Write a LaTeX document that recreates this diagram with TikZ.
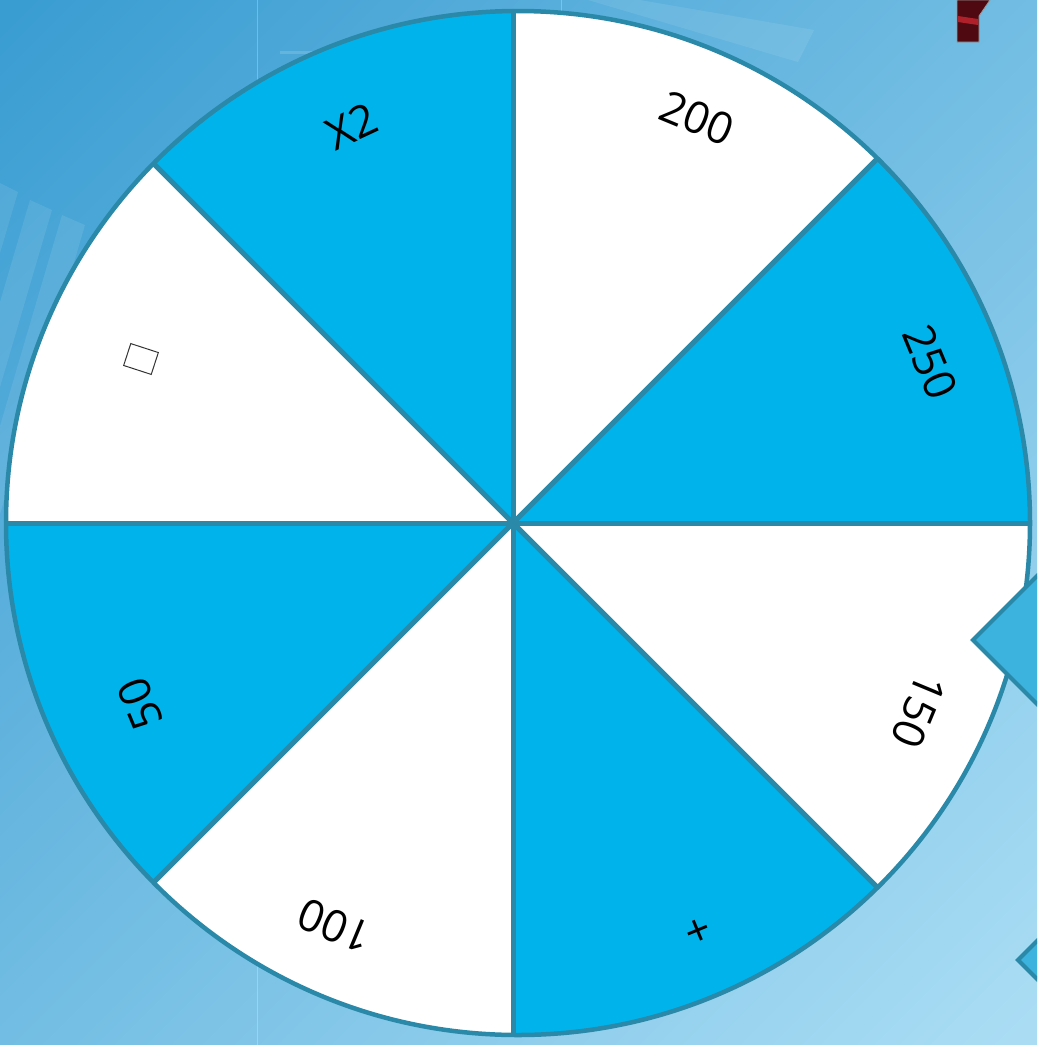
\documentclass[tikz,border=0pt]{standalone}
\usepackage{fontspec}
\setmainfont{Open Sans}
\definecolor{bgA}{HTML}{3A9DD2}
\definecolor{bgB}{HTML}{AADDF4}
\definecolor{wblue}{HTML}{00B4EB}
\definecolor{rimc}{HTML}{2A88A8}
\definecolor{ptr}{HTML}{3CB2DE}
\definecolor{dred}{HTML}{4E0A10}
\definecolor{mred}{HTML}{B0202A}
\begin{document}
\begin{tikzpicture}[x=1pt,y=1pt,
  rim/.style={draw=rimc, line width=4.5pt},
  spoke/.style={draw=rimc, line width=5pt},
  lbl/.style={font=\fontsize{44}{44}\selectfont, text=black, inner sep=0pt},
  deco/.style={fill=white, fill opacity=0.09},
  pointer/.style={fill=ptr, draw=rimc, line width=4pt, line join=miter}]
\useasboundingbox (0,0) rectangle (1037,-1045);
\clip (0,0) rectangle (1037,-1045);
% background
\shade[top color=bgA, bottom color=bgB, shading angle=45] (-200,200) rectangle (1237,-1245);
\fill[deco] (588,0) -- (640,0) -- (814,-30) -- (798,-62) -- cycle;
\fill[deco] (0,-183) -- (18,-192) -- (0,-253) -- cycle;
\fill[deco] (30,-200) -- (52,-210) -- (0,-387) -- (0,-302) -- cycle;
\fill[deco] (62,-215) -- (85,-225) -- (0,-514) -- (0,-426) -- cycle;
\draw[white, opacity=0.25, line width=1pt] (257,0) -- (257,-1045);
\draw[white, opacity=0.25, line width=1pt] (561,0) -- (561,-40);
\draw[white, opacity=0.15, line width=3pt] (280,-52) -- (330,-52);
% red object top right
\fill[dred, draw=black!40, line width=0.8pt] (957,0) -- (957,-42) -- (979,-42) -- (979,-16) -- (990,0) -- cycle;
\fill[mred] (958,-16) -- (978,-19) -- (978,-25) -- (958,-22) -- cycle;
% wheel
\coordinate (hub) at (513,-523);
\coordinate (rimc0) at (518,-523);
\begin{scope}
  \clip (rimc0) circle (512);
  \fill[white] (rimc0) circle (512);
  \fill[wblue] (hub) -- +(0:900) -- +(45:900) -- cycle;
  \fill[wblue] (hub) -- +(90:900) -- +(135:900) -- cycle;
  \fill[wblue] (hub) -- +(180:900) -- +(225:900) -- cycle;
  \fill[wblue] (hub) -- +(270:900) -- +(315:900) -- cycle;
  \foreach \a in {0,45,...,315} \draw[spoke] (hub) -- +(\a:900);
\end{scope}
\draw[rim] (rimc0) circle (512);
% labels
\node[lbl, rotate=-22.5] (t200) at (697,-118) {200};
\node[lbl, rotate=25] (tx2) at (352,-126) {X2};
\node[lbl, rotate=-67.5] (t250) at (930,-362) {250};
\node[lbl, rotate=-112.5] (t150) at (919,-711) {150};
\node[lbl, rotate=-157.5] (tplus) at (697,-928) {+};
\node[lbl, rotate=157.5] (t100) at (335,-926) {100};
\node[lbl, rotate=112.5] (t50) at (140,-704) {50};
\node[draw=black!80, line width=1pt, fill=white, minimum width=23pt, minimum height=29pt, rotate=72, inner sep=0pt] (tbox) at (141,-359) {};
% pointers
\draw[pointer] (973,-640) -- (1057,-556) -- (1141,-640) -- (1057,-724) -- cycle;
\draw[pointer] (1018,-960) -- (1050,-928) -- (1082,-960) -- (1050,-992) -- cycle;
\end{tikzpicture}
\end{document}
